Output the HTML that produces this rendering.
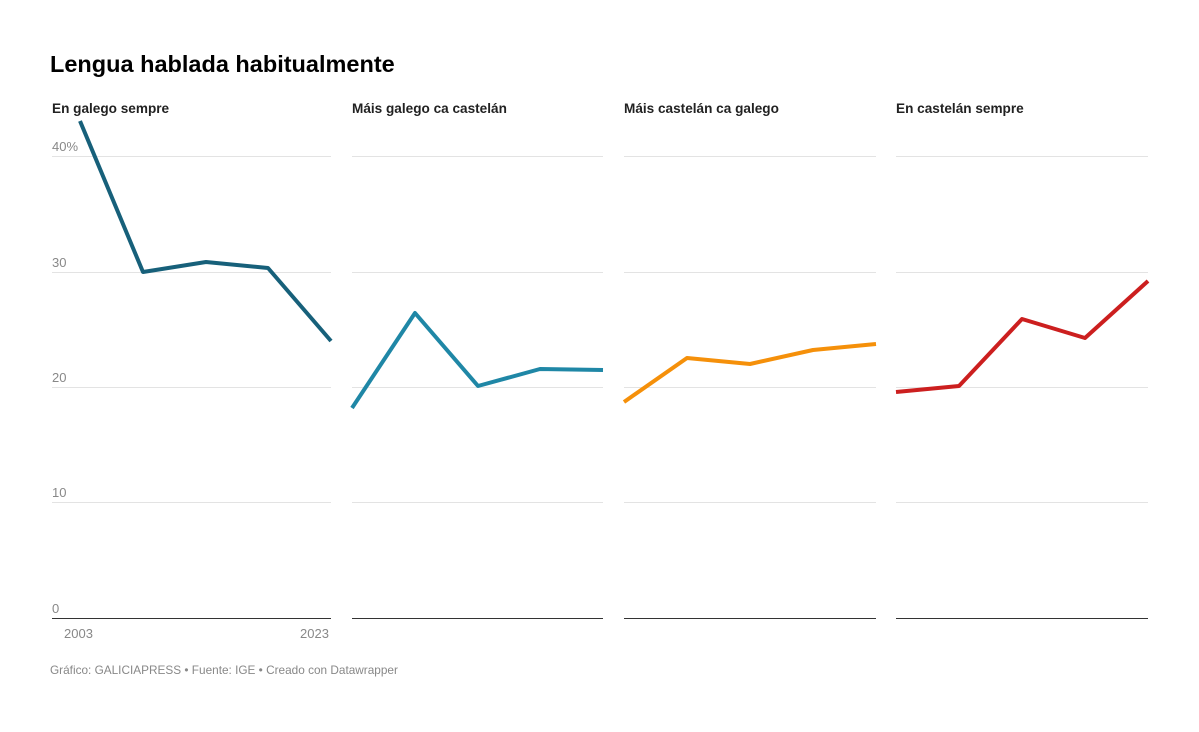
<!DOCTYPE html>
<html><head><meta charset="utf-8"><style>
body{margin:0;background:#fff;width:1199px;height:727px;overflow:hidden;font-family:"Liberation Sans",sans-serif}
</style></head><body>
<svg width="1199" height="727" xmlns="http://www.w3.org/2000/svg" font-family="Liberation Sans, sans-serif">
<text x="50" y="72" font-size="23.5" font-weight="bold" fill="#000">Lengua hablada habitualmente</text>
<g font-size="13.6" font-weight="bold" fill="#222">
<text x="52" y="113">En galego sempre</text>
<text x="352" y="113">Máis galego ca castelán</text>
<text x="624" y="113">Máis castelán ca galego</text>
<text x="896" y="113">En castelán sempre</text>
</g>
<g stroke="#e3e3e3" stroke-width="1">
<line x1="52" x2="331" y1="156.5" y2="156.5"/><line x1="52" x2="331" y1="272.5" y2="272.5"/><line x1="52" x2="331" y1="387.5" y2="387.5"/><line x1="52" x2="331" y1="502.5" y2="502.5"/>
<line x1="352" x2="603" y1="156.5" y2="156.5"/><line x1="352" x2="603" y1="272.5" y2="272.5"/><line x1="352" x2="603" y1="387.5" y2="387.5"/><line x1="352" x2="603" y1="502.5" y2="502.5"/>
<line x1="624" x2="876" y1="156.5" y2="156.5"/><line x1="624" x2="876" y1="272.5" y2="272.5"/><line x1="624" x2="876" y1="387.5" y2="387.5"/><line x1="624" x2="876" y1="502.5" y2="502.5"/>
<line x1="896" x2="1148" y1="156.5" y2="156.5"/><line x1="896" x2="1148" y1="272.5" y2="272.5"/><line x1="896" x2="1148" y1="387.5" y2="387.5"/><line x1="896" x2="1148" y1="502.5" y2="502.5"/>
</g>
<g stroke="#333" stroke-width="1">
<line x1="52" x2="331" y1="618.5" y2="618.5"/><line x1="352" x2="603" y1="618.5" y2="618.5"/><line x1="624" x2="876" y1="618.5" y2="618.5"/><line x1="896" x2="1148" y1="618.5" y2="618.5"/>
</g>
<g font-size="13" fill="#888">
<text x="52" y="151">40%</text><text x="52" y="267">30</text><text x="52" y="382">20</text><text x="52" y="497">10</text><text x="52" y="613">0</text>
<text x="64" y="638">2003</text><text x="300" y="638">2023</text>
</g>
<g fill="none" stroke-width="4" stroke-linejoin="round">
<polyline stroke="#17607a" points="80,121 143,272 206,262 268,268 331,341"/>
<polyline stroke="#1f87a6" points="352,408 415,313 478,386 540,369 603,370"/>
<polyline stroke="#f5900a" points="624,402 687,358 750,364 813,350 876,344"/>
<polyline stroke="#cc1f1f" points="896,392 959,386 1022,319 1085,338 1148,281"/>
</g>
<text x="50" y="674" font-size="11.8" fill="#888">Gráfico: GALICIAPRESS • Fuente: IGE • Creado con Datawrapper</text>
</svg>
</body></html>
